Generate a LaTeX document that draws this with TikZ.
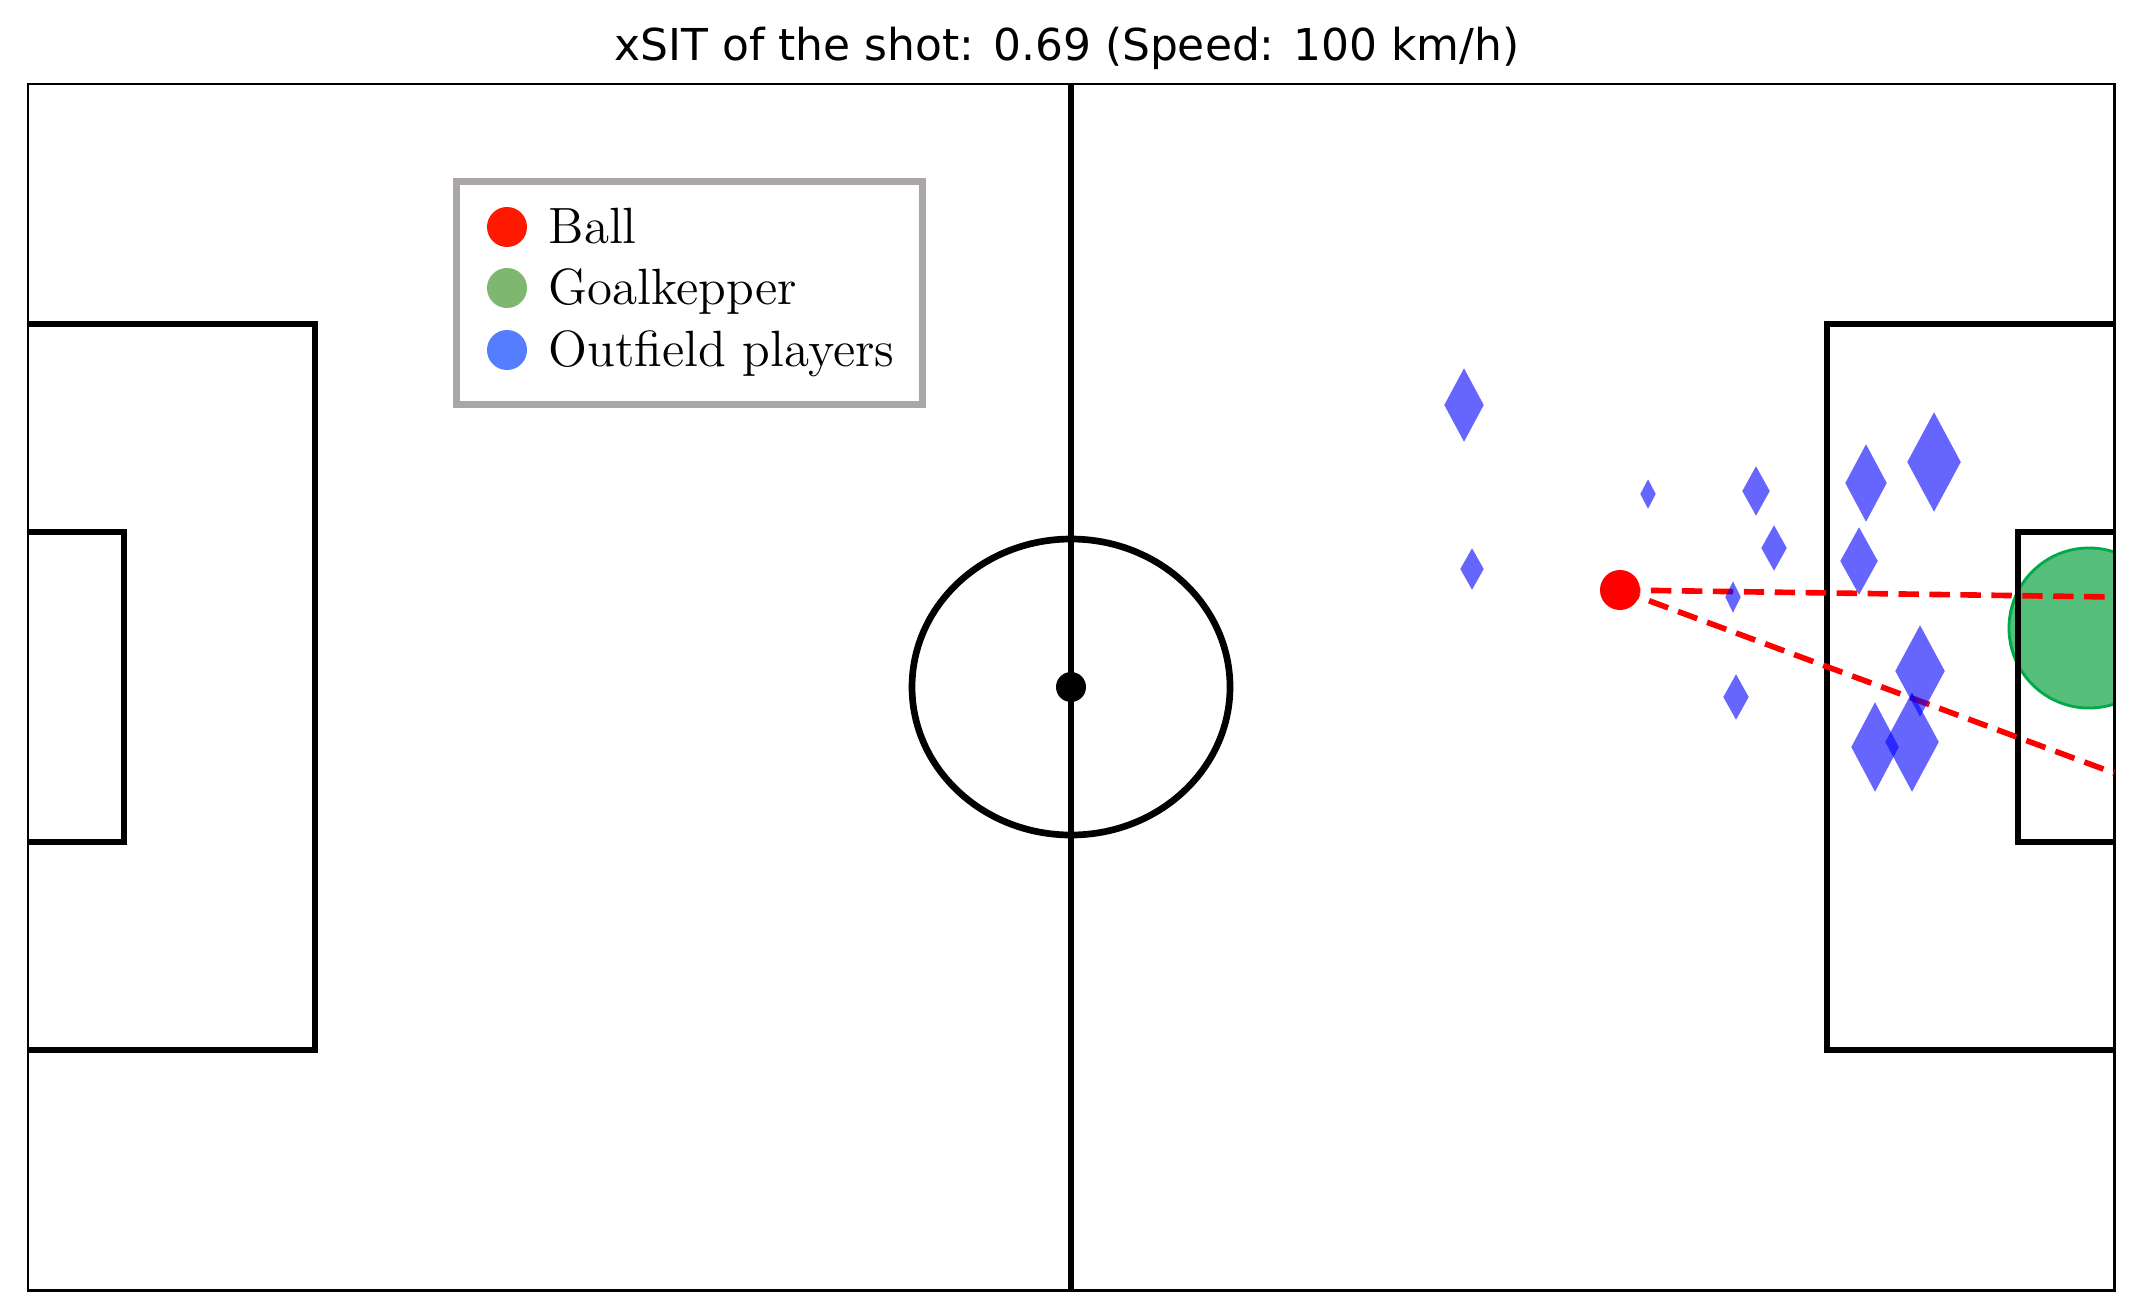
\documentclass[tikz,border=0pt]{standalone}
\usepackage{fontspec}
\newfontfamily\titlefont{DejaVu Sans}
\usetikzlibrary{shapes.geometric}

\definecolor{keeperfill}{RGB}{84,190,122}
\definecolor{keeperedge}{RGB}{0,170,75}
\definecolor{legred}{RGB}{255,25,0}
\definecolor{leggreen}{RGB}{128,183,112}
\definecolor{legblue}{RGB}{85,125,255}
\definecolor{leggray}{RGB}{170,166,166}

\begin{document}
\begin{tikzpicture}[
  x=0.01cm, y=-0.01cm,
  pitchline/.style={draw=black, line width=1.9pt},
  shotline/.style={draw=red, line width=1.6pt, dash pattern=on 5.8pt off 3pt},
  player/.style={diamond, fill=blue, fill opacity=0.6, draw=none, inner sep=0pt},
  ballmark/.style={circle, fill=red, inner sep=0pt, minimum size=4mm},
  keeper/.style={circle, fill=keeperfill, draw=keeperedge, line width=0.8pt, inner sep=0pt, minimum size=16mm},
  legdot/.style={circle, inner sep=0pt, minimum size=4mm},
  legtext/.style={anchor=base west, inner sep=0pt, font=\fontsize{14.5}{17}\selectfont}
]
\useasboundingbox (0,0) rectangle (2134,1315);

\node[anchor=base, inner sep=0pt, font=\titlefont\fontsize{12.5}{15}\selectfont] (title) at (1067,60)
  {xSIT of the shot: 0.69 (Speed: 100 km/h)};

% goalkeeper, cut off at the goal line
\begin{scope}
  \clip (28,84) rectangle (2114,1290);
  \node[keeper] (gk) at (2089,628) {};
\end{scope}

% pitch
\draw[line width=0.85pt] (28,84) rectangle (2114,1290);
\draw[pitchline] (1071,84) -- (1071,1290);
\draw[pitchline] (1071,687) ellipse [x radius=159, y radius=148];
\fill (1071,687) circle [radius=15];
\draw[pitchline] (28,324) -| (315,1050) -- (28,1050);
\draw[pitchline] (28,532) -| (124,842) -- (28,842);
\draw[pitchline] (2114,324) -| (1827,1050) -- (2114,1050);
\draw[pitchline] (2114,532) -| (2018,842) -- (2114,842);

% shot angle
\coordinate (shot) at (1620,590);
\coordinate (nearpost) at (2114,597);
\coordinate (farpost) at (2114,773);
\draw[shotline] (shot) -- (nearpost);
\draw[shotline] (shot) -- (farpost);

% outfield players
\foreach \px/\py/\hw/\hh [count=\i] in {1464/405/20/37, 1648/494/8/15, 1756/491/14/25,
    1774/548/13/23, 1472/569/12/21, 1733/597/8/16, 1866/483/21/39, 1934/462/27/50,
    1859/561/19/34, 1920/671/25/46, 1736/697/13/23, 1875/747/24/45, 1912/742/27/50}
  \node[player, minimum width={0.02cm*\hw}, minimum height={0.02cm*\hh}] (player\i) at (\px,\py) {};

\node[ballmark] (ball) at (shot) {};

% legend
\node[draw=leggray, line width=1.9pt, fill=white, minimum width=4.66cm, minimum height=2.23cm] (legend) at (689.5,293) {};
\foreach \ly/\col/\txt [count=\i] in {227/legred/Ball, 288/leggreen/Goalkepper, 350/legblue/Outfield players} {
  \node[legdot, fill=\col] (legdot\i) at (507,\ly) {};
  \node[legtext] (legtext\i) at (548,{\ly+16}) {\txt};
}
\end{tikzpicture}
\end{document}
